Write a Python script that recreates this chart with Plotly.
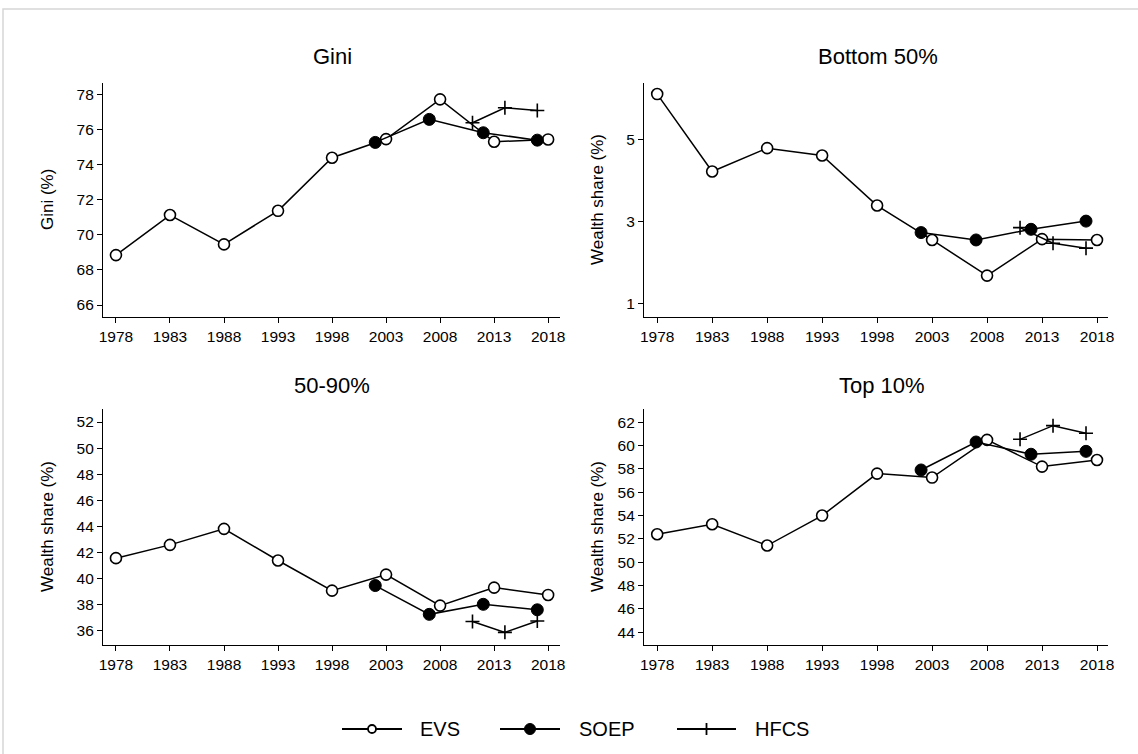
import plotly.graph_objects as go

# the page body margin is removed with a post_script so figure pixels map to the window
OFF = 0
W, H = 1138, 754

evs_years = [1978, 1983, 1988, 1993, 1998, 2003, 2008, 2013, 2018]
soep_years = [2002, 2007, 2012, 2017]
hfcs_years = [2011, 2014, 2017]

gini_evs = [68.84, 71.12, 69.45, 71.36, 74.38, 75.44, 77.70, 75.29, 75.42]
gini_soep = [75.25, 76.56, 75.80, 75.38]
gini_hfcs = [76.37, 77.22, 77.07]

b50_evs = [6.12, 4.23, 4.80, 4.62, 3.40, 2.56, 1.69, 2.58, 2.56]
b50_soep = [2.74, 2.56, 2.82, 3.02]
b50_hfcs = [2.86, 2.48, 2.36]

m40_evs = [41.56, 42.58, 43.81, 41.38, 39.07, 40.30, 37.92, 39.30, 38.74]
m40_soep = [39.46, 37.25, 38.02, 37.60]
m40_hfcs = [36.70, 35.87, 36.74]

t10_evs = [52.40, 53.26, 51.43, 54.00, 57.60, 57.26, 60.49, 58.20, 58.77]
t10_soep = [57.91, 60.31, 59.26, 59.51]
t10_hfcs = [60.54, 61.71, 61.06]

series_names = ["EVS", "SOEP", "HFCS"]
panel_titles = ["Gini", "Bottom 50%", "50-90%", "Top 10%"]
y_titles = ["Gini (%)", "Wealth share (%)", "Wealth share (%)", "Wealth share (%)"]
y_ticks = [list(range(66, 79, 2)), [1, 3, 5], list(range(36, 53, 2)), list(range(44, 63, 2))]
y_ranges = [[65.32, 78.63], [0.68, 6.39], [34.9, 53.0], [42.9, 63.14]]
x_ticks = list(range(1978, 2019, 5))
x_ranges = [[1976.8, 2019.1], [1976.8, 2019.0], [1976.8, 2019.1], [1976.8, 2019.0]]

FONT = "Liberation Sans, Arial, sans-serif"


def px(x):
    return (x - OFF) / W


def py(y):
    return 1 - (y - OFF) / H


# pixel boxes of the plot regions in the window: (x0, x1, ytop, ybottom)
boxes = [(103, 560, 83, 317), (644, 1108, 83, 317), (103, 560, 409, 645), (644, 1108, 409, 645)]
title_pos = [(332, 57), (878, 57), (332, 385), (882, 385)]
ytitle_x = [47, 597, 47, 597]

data = [
    (gini_evs, gini_soep, gini_hfcs),
    (b50_evs, b50_soep, b50_hfcs),
    (m40_evs, m40_soep, m40_hfcs),
    (t10_evs, t10_soep, t10_hfcs),
]

fig = go.Figure()
line = dict(color="black", width=1.5)

for i, (evs, soep, hfcs) in enumerate(data):
    xa = "x" if i == 0 else f"x{i+1}"
    ya = "y" if i == 0 else f"y{i+1}"
    fig.add_trace(go.Scatter(x=evs_years, y=evs, mode="lines+markers", name="EVS",
                             line=line, xaxis=xa, yaxis=ya, showlegend=False,
                             marker=dict(symbol="circle", size=11, color="white",
                                         line=dict(color="black", width=1.6))))
    fig.add_trace(go.Scatter(x=soep_years, y=soep, mode="lines+markers", name="SOEP",
                             line=line, xaxis=xa, yaxis=ya, showlegend=False,
                             marker=dict(symbol="circle", size=12, color="black",
                                         line=dict(color="black", width=1))))
    fig.add_trace(go.Scatter(x=hfcs_years, y=hfcs, mode="lines+markers", name="HFCS",
                             line=line, xaxis=xa, yaxis=ya, showlegend=False,
                             marker=dict(symbol="cross-thin", size=10, color="black",
                                         line=dict(color="black", width=1.6))))

layout = dict(
    width=W, height=H,
    margin=dict(l=0, r=0, t=0, b=0),
    paper_bgcolor="white", plot_bgcolor="white",
    font=dict(family=FONT, color="black", size=15),
    showlegend=False,
)

annotations = []
shapes = []
for i, (x0, x1, yt, yb) in enumerate(boxes):
    k = "" if i == 0 else str(i + 1)
    common = dict(ticks="outside", ticklen=5, tickwidth=1.2, tickcolor="black",
                  showline=True, linecolor="black", linewidth=1.2,
                  showgrid=False, zeroline=False, automargin=False,
                  tickfont=dict(family=FONT, size=15.5, color="black"))
    layout[f"xaxis{k}"] = dict(domain=[px(x0), px(x1)], anchor=f"y{k}" if k else "y",
                               range=x_ranges[i], tickvals=x_ticks, **common)
    layout[f"yaxis{k}"] = dict(domain=[py(yb), py(yt)], anchor=f"x{k}" if k else "x",
                               range=y_ranges[i], tickvals=y_ticks[i], **common)
    tx, ty = title_pos[i]
    annotations.append(dict(text=panel_titles[i], xref="paper", yref="paper",
                            x=px(tx), y=py(ty), showarrow=False,
                            xanchor="center", yanchor="middle",
                            font=dict(family=FONT, size=22, color="black")))
    annotations.append(dict(text=y_titles[i], xref="paper", yref="paper",
                            x=px(ytitle_x[i]), y=py((yt + yb) / 2), showarrow=False,
                            textangle=-90, xanchor="center", yanchor="middle",
                            font=dict(family=FONT, size=17, color="black")))

# legend drawn manually to match the long Stata-style key lines
leg_y = py(729)
leg_items = [(342, 402, 418), (500, 560, 577), (677, 736, 753)]
for name, (l0, l1, lt) in zip(series_names, leg_items):
    shapes.append(dict(type="line", xref="paper", yref="paper", x0=px(l0), x1=px(l1),
                       y0=leg_y, y1=leg_y, line=dict(color="black", width=1.8)))
    cx = px((l0 + l1) / 2)
    if name == "EVS":
        shapes.append(dict(type="circle", xref="paper", yref="paper", xsizemode="pixel",
                           ysizemode="pixel", xanchor=cx, yanchor=leg_y, x0=-4, x1=4, y0=-4, y1=4,
                           line=dict(color="black", width=1.8), fillcolor="white"))
    elif name == "SOEP":
        shapes.append(dict(type="circle", xref="paper", yref="paper", xsizemode="pixel",
                           ysizemode="pixel", xanchor=cx, yanchor=leg_y, x0=-5.5, x1=5.5,
                           y0=-5.5, y1=5.5, line=dict(color="black", width=1), fillcolor="black"))
    else:
        shapes.append(dict(type="line", xref="paper", yref="paper", ysizemode="pixel",
                           yanchor=leg_y, x0=cx, x1=cx, y0=-6, y1=6,
                           line=dict(color="black", width=1.8)))
    annotations.append(dict(text=name, xref="paper", yref="paper", x=px(lt), y=leg_y,
                            xanchor="left", yanchor="middle", showarrow=False,
                            font=dict(family=FONT, size=20, color="black")))

# light grey frame around the graph (right and bottom sides fall outside the window)
shapes.append(dict(type="rect", xref="paper", yref="paper",
                   x0=px(3), x1=1.2, y0=-0.2, y1=py(9),
                   line=dict(color="#d6d6d6", width=1.5), fillcolor="rgba(0,0,0,0)"))

layout["annotations"] = annotations
layout["shapes"] = shapes

fig.update_layout(**layout)
fig.write_html("out.html", config={"displayModeBar": False},
               post_script="document.body.style.margin='0px';document.body.style.overflow='hidden';")
